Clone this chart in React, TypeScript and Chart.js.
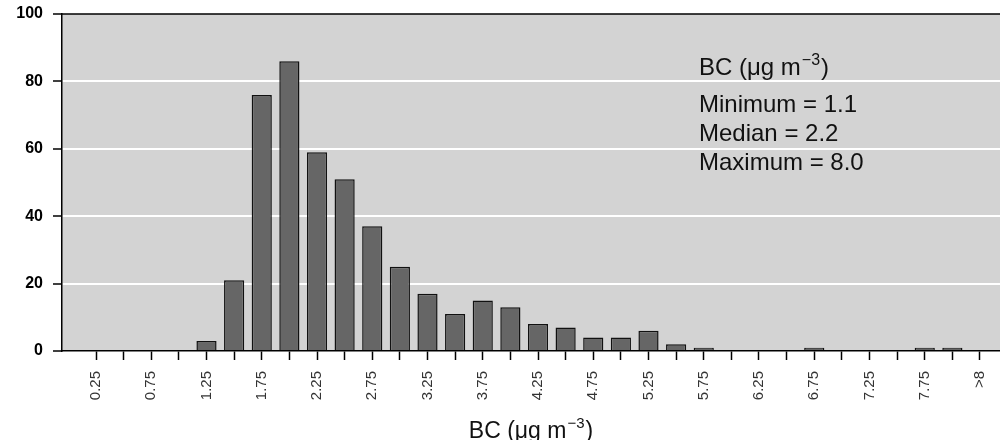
import React, { useEffect, useRef } from 'react';
import { Chart, registerables } from 'chart.js';

Chart.register(...registerables);

const binLabels = ['0.25', '0.5', '0.75', '1.0', '1.25', '1.5', '1.75', '2.0', '2.25', '2.5', '2.75', '3.0', '3.25', '3.5', '3.75', '4.0', '4.25', '4.5', '4.75', '5.0', '5.25', '5.5', '5.75', '6.0', '6.25', '6.5', '6.75', '7.0', '7.25', '7.5', '7.75', '8.0', '>8'];
const counts = [0, 0, 0, 0, 3, 21, 76, 86, 59, 51, 37, 25, 17, 11, 15, 13, 8, 7, 4, 4, 6, 2, 1, 0, 0, 0, 1, 0, 0, 0, 1, 1, 0];
const yTicks = [0, 20, 40, 60, 80, 100];
const statLines = ['Minimum = 1.1', 'Median = 2.2', 'Maximum = 8.0'];
const unitBase = 'BC (\u03bcg m';
const unitSup = '\u22123';
const unitTail = ')';

const FONT = '"Liberation Sans", Arial, sans-serif';

function drawUnit(ctx: CanvasRenderingContext2D, x: number, y: number, size: number, center: boolean) {
  const supSize = Math.round(size * 0.65);
  ctx.font = `${size}px ${FONT}`;
  const wBase = ctx.measureText(unitBase).width;
  const wTail = ctx.measureText(unitTail).width;
  ctx.font = `${supSize}px ${FONT}`;
  const wSup = ctx.measureText(unitSup).width;
  const total = wBase + 1 + wSup + 1 + wTail;
  const sx = center ? x - total / 2 : x;
  ctx.textAlign = 'left';
  ctx.textBaseline = 'alphabetic';
  ctx.font = `${size}px ${FONT}`;
  ctx.fillText(unitBase, sx, y);
  ctx.font = `${supSize}px ${FONT}`;
  ctx.fillText(unitSup, sx + wBase + 1, y - size * 0.42);
  ctx.font = `${size}px ${FONT}`;
  ctx.fillText(unitTail, sx + wBase + 1 + wSup + 1, y);
}

const decoPlugin = {
  id: 'deco',
  beforeDraw(chart: any) {
    const { ctx, chartArea: a } = chart;
    ctx.save();
    ctx.fillStyle = '#d3d3d3';
    ctx.fillRect(a.left, a.top, a.right - a.left, a.bottom - a.top);
    ctx.restore();
  },
  afterDraw(chart: any) {
    const { ctx, chartArea: a } = chart;
    ctx.save();
    ctx.strokeStyle = '#000';
    ctx.lineWidth = 1.5;
    ctx.beginPath();
    ctx.moveTo(a.left - 0.75, a.top);
    ctx.lineTo(a.right, a.top);
    ctx.stroke();

    ctx.fillStyle = '#111';
    const ax = a.left + 637;
    drawUnit(ctx, ax, a.top + 61, 24, false);
    ctx.font = `24px ${FONT}`;
    ctx.textAlign = 'left';
    ctx.textBaseline = 'alphabetic';
    statLines.forEach((t, i) => {
      ctx.fillText(t, ax, a.top + 97.5 + i * 29.3);
    });

    drawUnit(ctx, (a.left + a.right) / 2, 438, 23, true);
    ctx.restore();
  },
};

export default function App() {
  const ref = useRef<HTMLCanvasElement>(null);
  useEffect(() => {
    if (!ref.current) return;
    const chart = new Chart(ref.current, {
      type: 'bar',
      data: {
        datasets: [
          {
            data: counts.map((v, i) => ({ x: i, y: v })),
            backgroundColor: '#666666',
            borderColor: '#111111',
            borderWidth: 1.5,
            borderSkipped: 'bottom',
            barPercentage: 0.73,
            categoryPercentage: 1,
          },
        ],
      },
      options: {
        animation: false,
        responsive: true,
        maintainAspectRatio: false,
        layout: { padding: { top: 14, left: 0, right: 0, bottom: 0 } },
        plugins: { legend: { display: false }, tooltip: { enabled: false } },
        scales: {
          x: {
            type: 'linear',
            offset: false,
            min: -1.2308,
            max: 32.724,
            afterBuildTicks: (s: any) => {
              s.ticks = binLabels.map((_, i) => ({ value: i }));
            },
            afterFit: (s: any) => {
              s.height = 89;
              s.paddingLeft = 0;
              s.paddingRight = 0;
            },
            ticks: {
              autoSkip: false,
              minRotation: 90,
              maxRotation: 90,
              padding: 11,
              color: '#333',
              font: { size: 15, family: FONT },
              callback: (v: any) => (Number(v) % 2 === 0 ? binLabels[Number(v)] : ''),
            },
            grid: {
              display: true,
              offset: false,
              drawOnChartArea: false,
              drawTicks: true,
              tickLength: 9,
              tickColor: '#000',
              tickWidth: 1.5,
            },
            border: { display: true, color: '#000', width: 1.5 },
          },
          y: {
            min: 0,
            max: 100,
            afterBuildTicks: (s: any) => {
              s.ticks = yTicks.map((v) => ({ value: v }));
            },
            afterFit: (s: any) => {
              s.width = 62;
              s.paddingTop = 0;
              s.paddingBottom = 0;
            },
            ticks: {
              padding: 10,
              color: '#000',
              font: { size: 16, weight: 'bold', family: FONT },
            },
            grid: {
              color: (c: any) => (c.tick && c.tick.value > 0 && c.tick.value < 100 ? '#ffffff' : 'rgba(0,0,0,0)'),
              lineWidth: 2,
              tickLength: 9,
              tickColor: '#000',
              tickWidth: 1.5,
            },
            border: { display: true, color: '#000', width: 1.5 },
          },
        },
      },
      plugins: [decoPlugin],
    });
    return () => chart.destroy();
  }, []);
  return (
    <div style={{ position: 'absolute', left: 0, top: 0, width: 1000, height: 440, background: '#fff' }}>
      <canvas ref={ref} />
    </div>
  );
}
